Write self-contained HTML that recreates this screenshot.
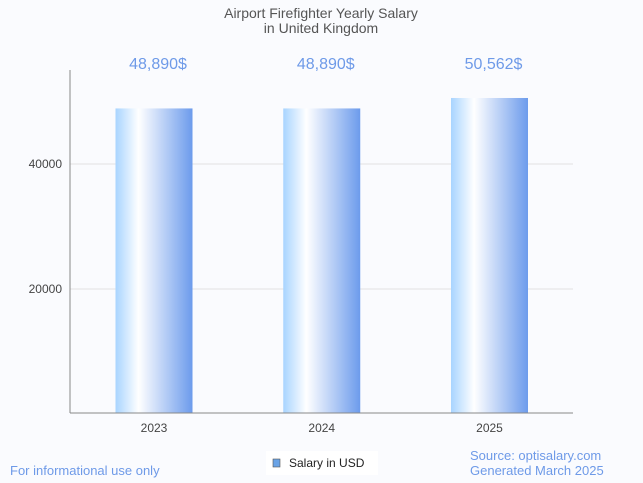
<!DOCTYPE html>
<html><head><meta charset="utf-8"><style>
body{margin:0;background:#fafbfe;}
svg{display:block;font-family:"Liberation Sans",sans-serif;}
</style></head><body>
<svg width="643" height="483" viewBox="0 0 643 483">
<defs>
<linearGradient id="bg" x1="0" x2="1" y1="0" y2="0">
<stop offset="0" stop-color="#a8d4ff"/><stop offset="0.3" stop-color="#ffffff"/><stop offset="1" stop-color="#6c9bec"/>
</linearGradient>
</defs>
<rect width="643" height="483" fill="#fafbfe"/>
<text x="321" y="18" text-anchor="middle" font-size="14" fill="#555">Airport Firefighter Yearly Salary</text>
<text x="321" y="33" text-anchor="middle" font-size="14" fill="#555">in United Kingdom</text>
<g id="grid"></g>
<g id="bars"></g>
<line x1="70" y1="70" x2="70" y2="413" stroke="#888"/>
<line x1="70" y1="413" x2="573" y2="413" stroke="#888"/>
<text x="10" y="475" font-size="13" fill="#6e9ae8">For informational use only</text>
<rect x="266" y="451" width="112" height="24" fill="#fff"/>
<rect x="273" y="459" width="7" height="8" fill="#6aa3e6" stroke="#555" stroke-width="0.6"/>
<text x="289" y="467" font-size="12" fill="#222">Salary in USD</text>
<text x="470" y="460" font-size="13" fill="#6e9ae8">Source: optisalary.com</text>
<text x="470" y="475" font-size="13" fill="#6e9ae8">Generated March 2025</text>
</svg>
<script>
const categories=["2023","2024","2025"];
const values=[48890,48890,50562];
const valueLabels=["48,890$","48,890$","50,562$"];
const yTicks=[20000,40000];
const ns="http://www.w3.org/2000/svg";
const y=v=>414-v*0.00625;
const xc=i=>154+i*167.75;
const svg=document.querySelector('svg');
function mk(t,a,p){const e=document.createElementNS(ns,t);for(const k in a)e.setAttribute(k,a[k]);(p||svg).appendChild(e);return e;}
const grid=document.getElementById('grid'),bars=document.getElementById('bars');
yTicks.forEach(t=>{
 const l=mk('line',{x1:70,x2:573,y1:y(t),y2:y(t),stroke:'#e2e2e2'},grid);
 
 
 const tx=mk('text',{x:62,y:y(t)+4,'text-anchor':'end','font-size':12,fill:'#444'},grid);
 tx.textContent=t;
 
 
});
categories.forEach((c,i)=>{
 const r=mk('rect',{x:xc(i)-38.5,y:y(values[i]),width:77,height:413-y(values[i]),fill:'url(#bg)'},bars);
 
 
 const v=mk('text',{x:xc(i)+4,y:69,'text-anchor':'middle','font-size':16,fill:'#6e9ae8'},bars);
 v.textContent=valueLabels[i];
 
 
 const xl=mk('text',{x:xc(i),y:432,'text-anchor':'middle','font-size':12,fill:'#444'},bars);
 xl.textContent=c;
 
 
});
</script>
</body></html>
